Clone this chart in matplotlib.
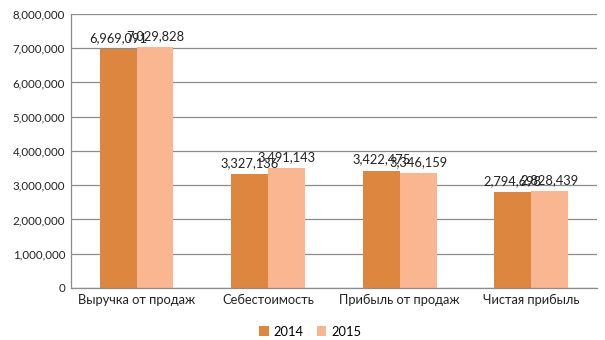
import numpy as np
import matplotlib.pyplot as plt
from matplotlib.ticker import FuncFormatter

# financial results by year
categories = ["Выручка от продаж", "Себестоимость", "Прибыль от продаж", "Чистая прибыль"]
years = ["2014", "2015"]
values_2014 = [6969091, 3327136, 3422475, 2794698]
values_2015 = [7029828, 3491143, 3346159, 2828439]

plt.rcParams['font.family'] = ['Lato', 'DejaVu Sans']

fig = plt.figure(figsize=(6.05, 3.4), dpi=100)
ax = fig.add_axes([0.117, 0.153, 0.870, 0.806])

x = np.arange(len(categories))
w = 0.28
colors = ["#DD8640", "#F9B690"]
for i, (vals, c) in enumerate(zip([values_2014, values_2015], colors)):
    pos = x + (i - 0.5) * w
    ax.bar(pos, vals, w, color=c, label=years[i], zorder=2)
    for px, v in zip(pos, vals):
        ax.text(px, v + 150000, "{:,}".format(v), ha="center", va="bottom",
                fontsize=9.3, color="#222222", zorder=3)

ax.set_xlim(-0.5, len(categories) - 0.5)
ax.set_ylim(0, 8000000)
ax.set_yticks(np.arange(0, 8000001, 1000000))
ax.yaxis.set_major_formatter(FuncFormatter(lambda v, p: "{:,}".format(int(v))))
ax.set_xticks(x)
ax.set_xticklabels(categories, fontsize=9.3)
ax.grid(axis="y", color="#8c8c8c", linewidth=0.9, zorder=0)
ax.tick_params(length=0, labelsize=8.3, colors="#222222", pad=4)
ax.tick_params(axis="x", labelsize=9.3)
for s in ["top", "right"]:
    ax.spines[s].set_visible(False)
for s in ["left", "bottom"]:
    ax.spines[s].set_color("#8c8c8c")
    ax.spines[s].set_linewidth(0.9)

ax.legend(loc="upper center", bbox_to_anchor=(0.455, -0.095), ncol=2, frameon=False,
          fontsize=9.3, handlelength=0.75, handleheight=0.75, handletextpad=0.4,
          columnspacing=1.0)

fig.savefig("out.png", dpi=100)
